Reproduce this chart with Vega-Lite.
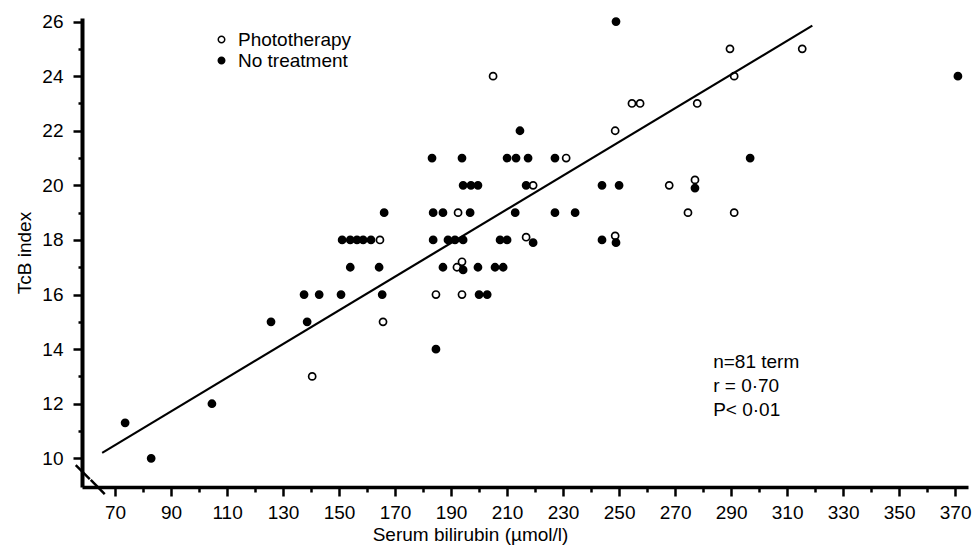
{
  "$schema": "https://vega.github.io/schema/vega-lite/v6.json",
  "width": 886,
  "height": 469,
  "autosize": {"type": "none"},
  "padding": {"left": 82, "top": 18, "right": 4, "bottom": 62},
  "background": "white",
  "config": {
    "view": {"stroke": null},
    "font": "Liberation Sans",
    "axis": {"labelFont": "Liberation Sans", "titleFont": "Liberation Sans", "labelColor": "black", "titleColor": "black", "titleFontWeight": "normal", "grid": false, "tickColor": "black", "domainColor": "black"}
  },
  "datasets": {
    "points": [
      {"group": "Phototherapy", "bilirubin": 140.4, "tcb": 13},
      {"group": "Phototherapy", "bilirubin": 164.6, "tcb": 18},
      {"group": "Phototherapy", "bilirubin": 165.7, "tcb": 15},
      {"group": "Phototherapy", "bilirubin": 192.1, "tcb": 17},
      {"group": "Phototherapy", "bilirubin": 193.9, "tcb": 17.2},
      {"group": "Phototherapy", "bilirubin": 184.6, "tcb": 16},
      {"group": "Phototherapy", "bilirubin": 193.9, "tcb": 16},
      {"group": "Phototherapy", "bilirubin": 216.8, "tcb": 18.1},
      {"group": "Phototherapy", "bilirubin": 192.5, "tcb": 19},
      {"group": "Phototherapy", "bilirubin": 219.3, "tcb": 20},
      {"group": "Phototherapy", "bilirubin": 231.1, "tcb": 21},
      {"group": "Phototherapy", "bilirubin": 205, "tcb": 24},
      {"group": "Phototherapy", "bilirubin": 248.6, "tcb": 22},
      {"group": "Phototherapy", "bilirubin": 254.6, "tcb": 23},
      {"group": "Phototherapy", "bilirubin": 257.5, "tcb": 23},
      {"group": "Phototherapy", "bilirubin": 248.6, "tcb": 18.15},
      {"group": "Phototherapy", "bilirubin": 289.6, "tcb": 25},
      {"group": "Phototherapy", "bilirubin": 315.4, "tcb": 25},
      {"group": "Phototherapy", "bilirubin": 291.1, "tcb": 24},
      {"group": "Phototherapy", "bilirubin": 277.9, "tcb": 23},
      {"group": "Phototherapy", "bilirubin": 267.9, "tcb": 20},
      {"group": "Phototherapy", "bilirubin": 277.1, "tcb": 20.2},
      {"group": "Phototherapy", "bilirubin": 274.6, "tcb": 19},
      {"group": "Phototherapy", "bilirubin": 291.1, "tcb": 19},
      {"group": "No treatment", "bilirubin": 73.6, "tcb": 11.3},
      {"group": "No treatment", "bilirubin": 82.9, "tcb": 10},
      {"group": "No treatment", "bilirubin": 104.6, "tcb": 12},
      {"group": "No treatment", "bilirubin": 125.7, "tcb": 15},
      {"group": "No treatment", "bilirubin": 137.5, "tcb": 16},
      {"group": "No treatment", "bilirubin": 142.9, "tcb": 16},
      {"group": "No treatment", "bilirubin": 138.6, "tcb": 15},
      {"group": "No treatment", "bilirubin": 151.1, "tcb": 18},
      {"group": "No treatment", "bilirubin": 154, "tcb": 18},
      {"group": "No treatment", "bilirubin": 156.4, "tcb": 18},
      {"group": "No treatment", "bilirubin": 158.6, "tcb": 18},
      {"group": "No treatment", "bilirubin": 161.4, "tcb": 18},
      {"group": "No treatment", "bilirubin": 154, "tcb": 17},
      {"group": "No treatment", "bilirubin": 164.3, "tcb": 17},
      {"group": "No treatment", "bilirubin": 150.7, "tcb": 16},
      {"group": "No treatment", "bilirubin": 165.4, "tcb": 16},
      {"group": "No treatment", "bilirubin": 187.1, "tcb": 17},
      {"group": "No treatment", "bilirubin": 194.3, "tcb": 16.9},
      {"group": "No treatment", "bilirubin": 199.6, "tcb": 17},
      {"group": "No treatment", "bilirubin": 205.7, "tcb": 17},
      {"group": "No treatment", "bilirubin": 208.6, "tcb": 17},
      {"group": "No treatment", "bilirubin": 200, "tcb": 16},
      {"group": "No treatment", "bilirubin": 202.9, "tcb": 16},
      {"group": "No treatment", "bilirubin": 184.6, "tcb": 14},
      {"group": "No treatment", "bilirubin": 183.6, "tcb": 18},
      {"group": "No treatment", "bilirubin": 188.9, "tcb": 18},
      {"group": "No treatment", "bilirubin": 191.4, "tcb": 18},
      {"group": "No treatment", "bilirubin": 194.3, "tcb": 18},
      {"group": "No treatment", "bilirubin": 207.5, "tcb": 18},
      {"group": "No treatment", "bilirubin": 210, "tcb": 18},
      {"group": "No treatment", "bilirubin": 219.3, "tcb": 17.9},
      {"group": "No treatment", "bilirubin": 214.6, "tcb": 22},
      {"group": "No treatment", "bilirubin": 183.2, "tcb": 21},
      {"group": "No treatment", "bilirubin": 193.9, "tcb": 21},
      {"group": "No treatment", "bilirubin": 210, "tcb": 21},
      {"group": "No treatment", "bilirubin": 213.2, "tcb": 21},
      {"group": "No treatment", "bilirubin": 217.5, "tcb": 21},
      {"group": "No treatment", "bilirubin": 227.1, "tcb": 21},
      {"group": "No treatment", "bilirubin": 194.3, "tcb": 20},
      {"group": "No treatment", "bilirubin": 197.1, "tcb": 20},
      {"group": "No treatment", "bilirubin": 199.6, "tcb": 20},
      {"group": "No treatment", "bilirubin": 216.8, "tcb": 20},
      {"group": "No treatment", "bilirubin": 243.9, "tcb": 20},
      {"group": "No treatment", "bilirubin": 250, "tcb": 20},
      {"group": "No treatment", "bilirubin": 166.1, "tcb": 19},
      {"group": "No treatment", "bilirubin": 183.6, "tcb": 19},
      {"group": "No treatment", "bilirubin": 187.1, "tcb": 19},
      {"group": "No treatment", "bilirubin": 196.8, "tcb": 19},
      {"group": "No treatment", "bilirubin": 212.9, "tcb": 19},
      {"group": "No treatment", "bilirubin": 227.1, "tcb": 19},
      {"group": "No treatment", "bilirubin": 234.3, "tcb": 19},
      {"group": "No treatment", "bilirubin": 243.9, "tcb": 18},
      {"group": "No treatment", "bilirubin": 248.9, "tcb": 17.9},
      {"group": "No treatment", "bilirubin": 248.9, "tcb": 26},
      {"group": "No treatment", "bilirubin": 371, "tcb": 24},
      {"group": "No treatment", "bilirubin": 296.8, "tcb": 21},
      {"group": "No treatment", "bilirubin": 277.1, "tcb": 19.9}
    ],
    "fit": [
      {"bilirubin": 65.4, "tcb": 10.2},
      {"bilirubin": 319, "tcb": 25.85}
    ]
  },
  "layer": [
    {
      "data": {"name": "points"},
      "mark": {"type": "point", "shape": "circle", "filled": true, "stroke": "black", "strokeWidth": 1.7, "size": 50, "opacity": 1},
      "encoding": {
        "x": {
          "field": "bilirubin", "type": "quantitative",
          "scale": {"domain": [58.2, 374.6], "nice": false, "zero": false},
          "axis": {"orient": "bottom", "values": [70, 90, 110, 130, 150, 170, 190, 210, 230, 250, 270, 290, 310, 330, 350, 370], "tickSize": 9, "tickWidth": 2.5, "domainWidth": 3.5, "labelFontSize": 19, "labelPadding": 7, "title": "Serum bilirubin (µmol/l)", "titleFontSize": 19, "titlePadding": 3, "titleX": 388}
        },
        "y": {
          "field": "tcb", "type": "quantitative",
          "scale": {"domain": [8.95, 26.13], "nice": false, "zero": false},
          "axis": {"orient": "left", "values": [10, 12, 14, 16, 18, 20, 22, 24, 26], "tickSize": 9, "tickWidth": 2.5, "domainWidth": 4, "labelFontSize": 19, "labelPadding": 10, "title": "TcB index", "titleFontSize": 19, "titlePadding": 7}
        },
        "fill": {
          "field": "group", "type": "nominal",
          "scale": {"domain": ["Phototherapy", "No treatment"], "range": ["white", "black"]},
          "legend": {"title": null, "orient": "none", "legendX": 130, "legendY": 12, "padding": 0, "symbolType": "circle", "symbolSize": 42, "symbolStrokeColor": "black", "symbolStrokeWidth": 1.5, "labelFontSize": 19, "labelFont": "Liberation Sans", "labelColor": "black", "labelOffset": 7, "rowPadding": 1}
        }
      }
    },
    {
      "data": {"name": "fit"},
      "mark": {"type": "line", "color": "black", "strokeWidth": 2.2},
      "encoding": {
        "x": {
          "field": "bilirubin", "type": "quantitative",
          "scale": {"domain": [58.2, 374.6], "nice": false, "zero": false},
          "axis": {"orient": "bottom", "values": [80, 100, 120, 140, 160, 180, 200, 220, 240, 260, 280, 300, 320, 340, 360], "tickSize": 5, "tickWidth": 2.5, "domain": false, "labels": false, "title": null}
        },
        "y": {
          "field": "tcb", "type": "quantitative",
          "scale": {"domain": [8.95, 26.13], "nice": false, "zero": false},
          "axis": {"orient": "left", "values": [11, 13, 15, 17, 19, 21, 23, 25], "tickSize": 4, "tickWidth": 2.5, "domain": false, "labels": false, "title": null}
        }
      }
    },
    {
      "data": {"values": [{}]},
      "mark": {"type": "text", "align": "left", "baseline": "middle", "fontSize": 19, "font": "Liberation Sans", "lineHeight": 24, "color": "black"},
      "encoding": {
        "x": {"datum": 283.6, "type": "quantitative", "axis": null},
        "y": {"datum": 13.53, "type": "quantitative", "axis": null},
        "text": {"value": ["n=81 term", "r = 0·70", "P< 0·01"]}
      }
    },
    {
      "data": {"values": [{}]},
      "mark": {"type": "rule", "strokeWidth": 2.5, "color": "black"},
      "encoding": {
        "x": {"datum": 55.97, "type": "quantitative", "axis": null},
        "y": {"datum": 9.75, "type": "quantitative", "axis": null},
        "x2": {"datum": 60.97},
        "y2": {"datum": 9.24}
      }
    },
    {
      "data": {"values": [{}]},
      "mark": {"type": "rule", "strokeWidth": 2.5, "color": "black"},
      "encoding": {
        "x": {"datum": 61.33, "type": "quantitative", "axis": null},
        "y": {"datum": 9.21, "type": "quantitative", "axis": null},
        "x2": {"datum": 66.32},
        "y2": {"datum": 8.69}
      }
    }
  ],
  "resolve": {"axis": {"x": "independent", "y": "independent"}}
}
